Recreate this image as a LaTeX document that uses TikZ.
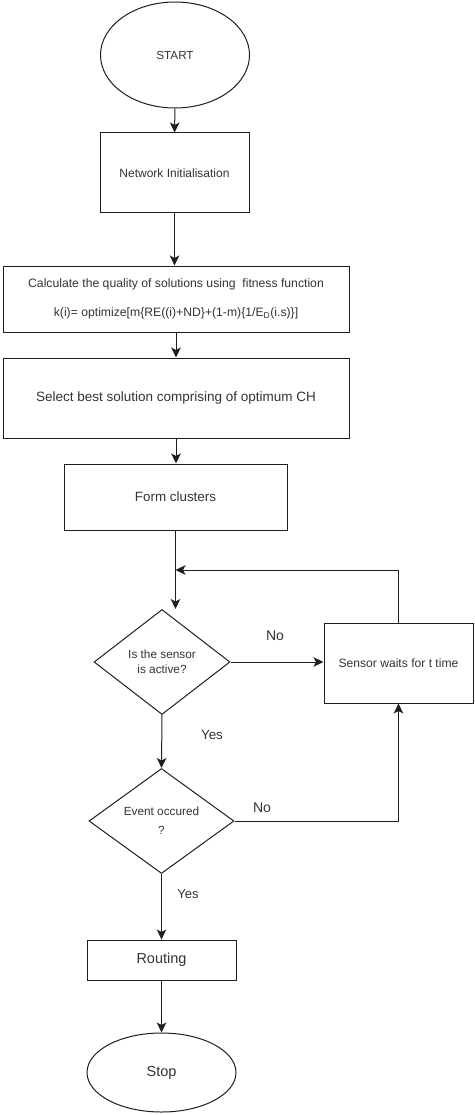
\documentclass[tikz,border=0pt]{standalone}
\usepackage{fontspec}
\setmainfont{Liberation Sans}
\usetikzlibrary{shapes.geometric,arrows.meta}
\definecolor{txt}{HTML}{333333}
\definecolor{ln}{HTML}{1E1E1E}
\tikzset{
  base/.style={draw=ln, line width=1pt, text=txt, align=center, inner sep=0pt},
  procbox/.style={base, rectangle},
  termnode/.style={base, ellipse},
  decnode/.style={base, diamond, aspect=1.3},
  conn/.style={draw=ln, line width=1pt, -{Stealth[length=10pt,width=9.5pt,inset=2.5pt]}},
  plain/.style={draw=ln, line width=1pt},
  lbl/.style={text=txt, inner sep=0pt},
  fs/.style={font=\fontsize{#1}{#1}\selectfont}
}
\begin{document}
\begin{tikzpicture}[x=1pt,y=-1pt]
\useasboundingbox (0,0) rectangle (474,1115);
\node[termnode, minimum width=149pt, minimum height=106pt, fs=11.7] (start) at (175,55) {START};
\node[procbox, minimum width=149pt, minimum height=80pt, fs=12] (init) at (174.5,173) {Network Initialisation};
\node[procbox, minimum width=346pt, minimum height=66pt, fs=12.2] (calc) at (176,299)
  {Calculate the quality of solutions using \ fitness function\\[17pt]
   k(i)= optimize[m\{RE((i)+ND\}+(1-m)\{1/E\textsubscript{D}(i.s)\}]};
\node[procbox, minimum width=346pt, minimum height=80pt, fs=13.5] (select) at (176,398) {Select best solution comprising of optimum CH};
\node[procbox, minimum width=223pt, minimum height=66pt, fs=13.4] (form) at (175.5,497) {Form clusters};
\node[decnode, minimum width=136pt, minimum height=105pt, fs=11.8] (d1) at (162,662) {Is the sensor\\[3pt]is active?};
\node[procbox, minimum width=149pt, minimum height=80pt, fs=12.1] (wait) at (398.5,663) {Sensor waits for t time};
\node[decnode, minimum width=145pt, minimum height=105pt, fs=11.8] (d2) at (161.5,821) {Event occured\\[7pt]?};
\node[procbox, minimum width=149pt, minimum height=40pt, fs=14.5] (route) at (161.5,960) {Routing};
\node[termnode, minimum width=149pt, minimum height=79pt, fs=14.5] (stop) at (161.5,1072.5) {Stop};

\coordinate (d1in) at (175.5,609);
\coordinate (loopj) at (175.5,570);

\draw[conn] (start.south) -- (init.north);
\draw[conn] (init.south) -- (init.south |- calc.north);
\draw[conn] (calc.south) -- (select.north);
\draw[conn] (select.south) -- (select.south |- form.north);
\draw[conn] (form.south) -- (d1in);
\draw[conn] (wait.north) -- (wait.north |- loopj) -- (loopj);
\draw[conn] (d1.east) -- (d1.east -| wait.west);
\draw[conn] (d1.south) -- (d2.north);
\draw[conn] (d2.east) -- (d2.east -| wait.south) -- (wait.south);
\draw[conn] (d2.south) -- (route.north);
\draw[conn] (route.south) -- (stop.north);

\node[lbl, fs=14] (no1) at (275,636) {No};
\node[lbl, fs=13.4] (yes1) at (212,735) {Yes};
\node[lbl, fs=14] (no2) at (262,808) {No};
\node[lbl, fs=13] (yes2) at (188,894) {Yes};
\end{tikzpicture}
\end{document}
